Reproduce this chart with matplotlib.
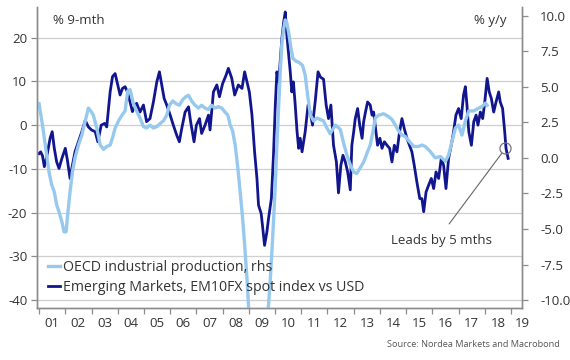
import matplotlib
matplotlib.use("Agg")
import matplotlib.pyplot as plt
from matplotlib.transforms import blended_transform_factory

plt.rcParams['font.family'] = ['Open Sans', 'DejaVu Sans']
plt.rcParams['axes.unicode_minus'] = False

# ---- data (decimal years; EM FX series on left axis, OECD IP on right axis) ----
em_t = [2001.00, 2001.06, 2001.13, 2001.20, 2001.28, 2001.42, 2001.50, 2001.58, 2001.67, 2001.76,
        2001.87, 2002.00, 2002.08, 2002.18, 2002.27, 2002.37, 2002.50, 2002.63, 2002.76, 2002.88,
        2003.00, 2003.14, 2003.24, 2003.37, 2003.50, 2003.58, 2003.71, 2003.80, 2003.90, 2004.00,
        2004.09, 2004.18, 2004.28, 2004.37, 2004.47, 2004.56, 2004.60, 2004.72, 2004.85, 2004.98,
        2005.10, 2005.23, 2005.36, 2005.49, 2005.59, 2005.68, 2005.77, 2005.87, 2006.00, 2006.12,
        2006.25, 2006.35, 2006.44, 2006.57, 2006.70, 2006.78, 2006.91, 2007.00, 2007.12, 2007.20,
        2007.33, 2007.46, 2007.52, 2007.65, 2007.78, 2007.88, 2008.00, 2008.13, 2008.22, 2008.35,
        2008.46, 2008.60, 2008.74, 2008.84, 2008.93, 2009.02, 2009.12, 2009.22, 2009.31, 2009.37,
        2009.47, 2009.52, 2009.60, 2009.69, 2009.75, 2009.86, 2009.94, 2010.01, 2010.07, 2010.14,
        2010.26, 2010.33, 2010.39, 2010.45, 2010.52, 2010.58, 2010.64, 2010.70, 2010.77, 2010.84,
        2010.90, 2010.96, 2011.03, 2011.09, 2011.15, 2011.26, 2011.34, 2011.43, 2011.53, 2011.64,
        2011.73, 2011.85, 2011.95, 2012.04, 2012.13, 2012.23, 2012.34, 2012.42, 2012.51, 2012.59,
        2012.68, 2012.77, 2012.87, 2012.93, 2013.00, 2013.06, 2013.15, 2013.23, 2013.32, 2013.38,
        2013.45, 2013.53, 2013.63, 2013.70, 2013.76, 2013.82, 2013.91, 2014.00, 2014.08, 2014.17,
        2014.27, 2014.37, 2014.46, 2014.55, 2014.65, 2014.75, 2014.84, 2014.93, 2015.03, 2015.13,
        2015.22, 2015.31, 2015.41, 2015.52, 2015.60, 2015.67, 2015.76, 2015.86, 2015.96, 2016.05,
        2016.14, 2016.24, 2016.34, 2016.43, 2016.52, 2016.62, 2016.72, 2016.81, 2016.90, 2017.00,
        2017.10, 2017.19, 2017.26, 2017.32, 2017.39, 2017.49, 2017.58, 2017.67, 2017.74, 2017.83,
        2017.92, 2018.00, 2018.09, 2018.17, 2018.25, 2018.34, 2018.43, 2018.53, 2018.59, 2018.68,
        2018.76, 2018.81, 2018.89]
em_v = [-6.5, -6.1, -7.0, -9.5, -7.6, -3.0, -1.5, -5.3, -8.4, -9.9,
        -7.6, -5.3, -8.0, -12.2, -9.2, -6.1, -3.8, -1.5, 1.1, -0.4,
        -1.1, -1.5, -3.8, 0.0, 0.4, -0.4, 7.6, 11.1, 11.8, 9.2,
        6.9, 8.4, 8.8, 7.6, 5.3, 3.1, 3.8, 5.0, 3.0, 4.6,
        0.8, 1.5, 5.3, 9.9, 12.2, 9.2, 6.1, 4.6, 2.3, 0.0,
        -2.3, -3.8, -0.8, 3.0, 4.2, 0.8, -3.8, 0.0, 1.5, -1.9,
        0.0, 2.3, -1.1, 7.6, 9.2, 6.5, 9.5, 11.4, 13.0, 10.7,
        6.9, 9.2, 8.4, 12.2, 9.9, 7.6, 2.3, -6.1, -12.2, -18.3,
        -20.2, -22.9, -27.5, -24.4, -21.4, -16.8, -6.9, 4.6, 12.2, 9.9,
        19.8, 23.6, 25.9, 20.6, 16.0, 12.2, 7.6, 9.9, 4.6, -1.5,
        -5.3, -3.0, -6.1, -3.8, -1.5, 4.6, 3.0, 0.0, 5.3, 12.2,
        11.0, 10.5, 4.6, 1.5, 4.6, -4.6, -8.4, -15.5, -9.2, -6.9,
        -8.4, -10.7, -14.8, -4.6, -1.5, 1.5, 3.8, 0.0, -3.0, 0.8,
        3.0, 5.3, 4.6, 2.3, 3.0, 0.0, -4.6, -3.0, -5.3, -3.8,
        -4.6, -5.3, -8.4, -4.6, -6.1, -1.5, 1.5, -0.8, -3.0, -4.6,
        -6.1, -9.2, -13.0, -16.8, -16.8, -19.8, -15.3, -13.7, -12.2, -14.5,
        -10.7, -12.2, -7.6, -9.2, -14.5, -7.6, -4.6, -1.5, 2.3, 3.8,
        1.5, 6.9, 8.8, 4.6, -1.5, -4.6, 0.8, 2.3, 0.0, 3.0,
        1.5, 5.3, 10.7, 7.6, 6.1, 3.0, 5.3, 7.6, 5.3, 3.8,
        -1.5, -5.3, -7.6]

ip_t = [2001.00, 2001.13, 2001.25, 2001.38, 2001.48, 2001.58, 2001.67, 2001.76, 2001.87, 2001.95,
        2002.03, 2002.10, 2002.18, 2002.27, 2002.37, 2002.50, 2002.63, 2002.76, 2002.88, 2002.97,
        2003.07, 2003.20, 2003.33, 2003.46, 2003.58, 2003.71, 2003.80, 2003.90, 2004.03, 2004.16,
        2004.28, 2004.38, 2004.47, 2004.60, 2004.72, 2004.85, 2004.98, 2005.10, 2005.23, 2005.36,
        2005.49, 2005.61, 2005.74, 2005.87, 2005.97, 2006.10, 2006.23, 2006.35, 2006.48, 2006.60,
        2006.70, 2006.82, 2006.95, 2007.08, 2007.20, 2007.33, 2007.46, 2007.58, 2007.71, 2007.84,
        2007.97, 2008.10, 2008.20, 2008.29, 2008.38, 2008.48, 2008.58, 2008.67, 2008.76, 2008.84,
        2008.93, 2009.00, 2009.08, 2009.17, 2009.25, 2009.33, 2009.42, 2009.50, 2009.58, 2009.67,
        2009.75, 2009.82, 2009.88, 2009.94, 2010.01, 2010.07, 2010.14, 2010.20, 2010.26, 2010.33,
        2010.39, 2010.45, 2010.52, 2010.60, 2010.68, 2010.80, 2010.92, 2011.05, 2011.15, 2011.25,
        2011.35, 2011.47, 2011.60, 2011.73, 2011.85, 2011.95, 2012.10, 2012.30, 2012.49, 2012.62,
        2012.74, 2012.87, 2013.00, 2013.12, 2013.25, 2013.38, 2013.50, 2013.63, 2013.75, 2013.82,
        2013.95, 2014.14, 2014.33, 2014.46, 2014.59, 2014.71, 2014.84, 2014.97, 2015.10, 2015.29,
        2015.48, 2015.60, 2015.73, 2015.92, 2016.11, 2016.30, 2016.50, 2016.62, 2016.75, 2016.88,
        2017.00, 2017.13, 2017.26, 2017.39, 2017.58, 2017.77, 2017.90, 2018.02, 2018.09]
ip_v = [3.8, 2.3, 0.7, -1.0, -1.9, -2.4, -3.3, -3.8, -4.5, -5.2,
        -5.2, -3.8, -2.4, -1.0, 0.0, 0.9, 1.6, 2.6, 3.5, 3.3,
        3.0, 2.1, 0.9, 0.6, 0.8, 0.9, 1.4, 2.1, 2.6, 3.0,
        3.3, 4.7, 4.8, 3.8, 3.3, 2.8, 2.2, 2.1, 2.3, 2.1,
        2.2, 2.4, 2.6, 3.0, 3.7, 4.0, 3.8, 3.7, 4.1, 4.3,
        4.4, 4.0, 3.7, 3.5, 3.7, 3.5, 3.4, 3.7, 3.5, 3.6,
        3.5, 3.2, 3.0, 2.3, 1.9, 0.9, -0.7, -2.4, -4.2, -6.1,
        -8.5, -10.8, -13.5, -16.0, -17.5, -18.0, -17.2, -15.5, -13.5, -11.8,
        -10.35, -8.5, -6.6, -4.5, -1.9, 0.9, 3.7, 6.1, 8.0, 9.1,
        9.7, 9.5, 8.8, 7.8, 7.0, 6.8, 6.7, 6.5, 5.8, 4.3,
        3.0, 2.6, 2.8, 2.7, 2.6, 2.2, 1.7, 2.3, 2.0, 1.0,
        0.2, -0.5, -1.0, -1.1, -0.7, -0.3, 0.3, 0.9, 2.0, 2.8,
        3.0, 3.1, 2.9, 2.7, 2.3, 1.9, 1.6, 1.5, 1.2, 0.8,
        0.8, 0.9, 0.8, 0.45, 0.0, 0.1, -0.25, 0.2, 1.15, 2.1,
        2.3, 1.6, 2.6, 3.3, 3.3, 3.5, 3.6, 3.85, 3.7]

year_labels = ['01', '02', '03', '04', '05', '06', '07', '08', '09', '10',
               '11', '12', '13', '14', '15', '16', '17', '18', '19']
left_ticks = [20, 10, 0, -10, -20, -30, -40]
right_ticks = [10.0, 7.5, 5.0, 2.5, 0.0, -2.5, -5.0, -7.5, -10.0]

DARK = '#12168e'
LIGHT = '#97c9ef'
GREY = '#8c8c8c'
TXT = '#333333'

fig = plt.figure(figsize=(5.7, 3.6), dpi=100)
ax = fig.add_axes([0.0649, 0.1436, 0.8509, 0.8378])
ax2 = ax.twinx()

ax.set_xlim(2000.92, 2019.42)
ax.set_ylim(-41.9, 27.1)
ax2.set_ylim(-10.58, 10.63)

ax.plot(em_t, em_v, color=DARK, lw=2.0, solid_joinstyle='round',
        label='Emerging Markets, EM10FX spot index vs USD', zorder=3)
ax2.plot(ip_t, ip_v, color=LIGHT, lw=2.4, solid_joinstyle='round',
         label='OECD industrial production, rhs', zorder=2)

# grid from left axis
ax.set_yticks(left_ticks)
ax.set_yticklabels([str(v) for v in left_ticks])
ax.yaxis.grid(True, color='#cfcfcf', lw=0.9)
ax.set_axisbelow(True)
ax2.set_yticks(right_ticks)
ax2.set_yticklabels([f'{v:.1f}' for v in right_ticks])

# x ticks at year boundaries, labels centered in years
years = list(range(2001, 2020))
ax.set_xticks(years)
ax.set_xticklabels([])
trans = blended_transform_factory(ax.transData, ax.transAxes)
for y, lab in zip(years, year_labels):
    ax.text(y + 0.5 if y < 2019 else y + 0.42, -0.052, lab, transform=trans,
            ha='center', va='center', fontsize=9.5, color=TXT, clip_on=False)

for a in (ax, ax2):
    a.spines['top'].set_visible(False)
    for s in ('left', 'right', 'bottom'):
        a.spines[s].set_color(GREY)
        a.spines[s].set_linewidth(1.0)
ax.tick_params(axis='x', direction='out', length=4, width=0.9, color=GREY)
ax.tick_params(axis='y', direction='out', length=4, width=0.9, color=GREY,
               labelsize=9.5, labelcolor=TXT, pad=3)
ax2.tick_params(axis='y', direction='out', length=4, width=0.9, color=GREY,
                labelsize=9.5, labelcolor=TXT, pad=9)

# unit labels
ax.text(0.033, 0.953, '% 9-mth', transform=ax.transAxes, ha='left', va='center',
        fontsize=9.5, color=TXT)
ax.text(0.969, 0.953, '% y/y', transform=ax.transAxes, ha='right', va='center',
        fontsize=9.5, color=TXT)

# legend
h1, l1 = ax2.get_legend_handles_labels()
h0, l0 = ax.get_legend_handles_labels()
leg = ax2.legend(h1 + h0, l1 + l0, loc='upper left', bbox_to_anchor=(0.022, 0.16),
                 frameon=False, fontsize=10.2, handlelength=0.85, handletextpad=0.25,
                 labelspacing=0.33, borderpad=0, borderaxespad=0)
for t in leg.get_texts():
    t.set_color(TXT)

# annotation
ax.plot([2018.79], [-5.3], marker='o', ms=8, mfc='none', mec='#777777', mew=0.9,
        zorder=5, clip_on=False)
ax.annotate('Leads by 5 mths', xy=(2018.79, -5.3), xytext=(2016.34, -26.5),
            ha='center', va='center', fontsize=9.5, color=TXT,
            arrowprops=dict(arrowstyle='-', color='#666666', lw=0.8,
                            shrinkA=7, shrinkB=4.5, relpos=(0.5, 1.0)))

fig.text(0.982, 0.044, 'Source: Nordea Markets and Macrobond', ha='right', va='center',
         fontsize=6.6, color='#555555')

fig.savefig('out.png', dpi=100)
